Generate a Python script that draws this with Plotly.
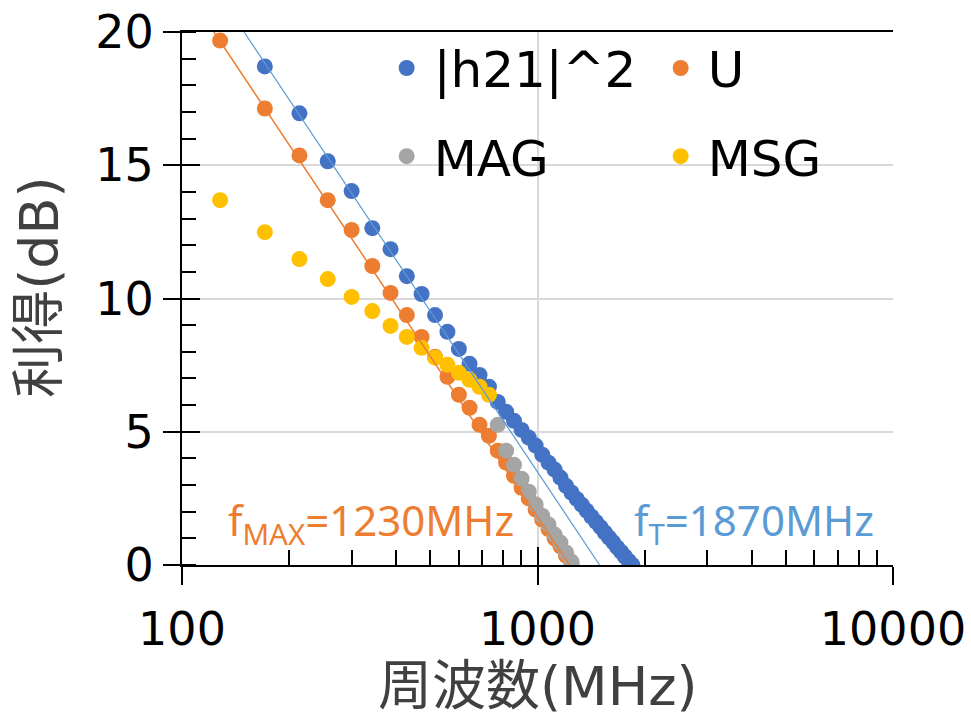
import plotly.graph_objects as go

# ---- data ----
freq_mhz = [128, 171, 214, 257, 300, 343, 386, 429, 472, 515, 558, 601, 644, 687, 730,
            773, 816, 859, 902, 945, 988, 1031, 1074, 1117, 1160, 1203, 1246, 1289, 1332,
            1375, 1418, 1461, 1504, 1547, 1590, 1633, 1676, 1719, 1762, 1805, 1848]

h21_db = [None, 18.71, 16.95, 15.15, 14.03, 12.64, 11.85, 10.84, 10.17, 9.38, 8.75, 8.11,
          7.55, 7.13, 6.69, 6.12, 5.75, 5.41, 5.07, 4.78, 4.48, 4.14, 3.84, 3.58, 3.28,
          2.97, 2.72, 2.48, 2.26, 2.04, 1.82, 1.62, 1.42, 1.22, 1.03, 0.85, 0.66, 0.49,
          0.32, 0.15, 0.0]

u_db = [19.68, 17.13, 15.37, 13.69, 12.57, 11.22, 10.21, 9.38, 8.56, 7.81, 7.06, 6.39,
        5.90, 5.26, 4.85, 4.29, 3.84, 3.35, 2.90, 2.50, 2.08, 1.70, 1.35, 1.00, 0.70,
        0.35, 0.05] + [None] * 14

mag_db = [None] * 15 + [5.26, 4.29, 3.76, 3.24, 2.75, 2.27, 1.85, 1.52, 1.14, 0.84,
                        0.47, 0.13] + [None] * 14

msg_db = [13.69, 12.49, 11.48, 10.73, 10.06, 9.53, 8.97, 8.56, 8.15, 7.78, 7.51, 7.21,
          6.95, 6.69, 6.39] + [None] * 26

trend_u_f = [123, 1230]
trend_u_db = [20, 0]
trend_h_f = [149.5, 1495]
trend_h_db = [20, 0]

series_names = ["|h21|^2", "U", "MAG", "MSG"]
series_colors = ["#4472C4", "#ED7D31", "#A5A5A5", "#FFC000"]
series_legend = ["legend", "legend", "legend2", "legend2"]

x_tickvals = [100, 1000, 10000]
x_ticktext = ["100", "1000", "10000"]
y_tickvals = [0, 5, 10, 15, 20]

FONT = "DejaVu Sans, Noto Sans CJK JP"

fig = go.Figure()
for name, ys, col, lg in zip(series_names, [h21_db, u_db, mag_db, msg_db], series_colors, series_legend):
    fig.add_trace(go.Scatter(x=freq_mhz, y=ys, mode="markers", name=name,
                             marker=dict(color=col, size=16, line=dict(width=0)),
                             legend=lg))

fig.add_trace(go.Scatter(x=trend_u_f, y=trend_u_db, mode="lines", showlegend=False,
                         line=dict(color="#ED7D31", width=1.5), xaxis="x2", yaxis="y2"))
fig.add_trace(go.Scatter(x=trend_h_f, y=trend_h_db, mode="lines", showlegend=False,
                         line=dict(color="#5B9BD5", width=1.2), xaxis="x2", yaxis="y2"))

common_x = dict(type="log", range=[2, 4], automargin=False)
common_y = dict(range=[0, 20.001], automargin=False)

fig.update_layout(
    width=971, height=724,
    margin=dict(l=182, r=78, t=32, b=159),
    paper_bgcolor="white", plot_bgcolor="white",
    font=dict(family=FONT, color="#000000", size=46),
    xaxis=dict(**common_x, tickvals=x_tickvals, ticktext=x_ticktext,
               showgrid=True, gridcolor="#D9D9D9", gridwidth=2,
               showline=True, linecolor="black", linewidth=2, mirror=True,
               ticks="outside", ticklen=18, tickwidth=2, tickcolor="black",
               ticklabelstandoff=5,
               tickfont=dict(size=46, family=FONT, color="#000000"),
               minor=dict(tickvals=[200, 300, 400, 500, 600, 700, 800, 900,
                                    2000, 3000, 4000, 5000, 6000, 7000, 8000, 9000],
                          ticks="inside", ticklen=15, tickwidth=2, tickcolor="black",
                          showgrid=False),
               zeroline=False),
    yaxis=dict(**common_y, tickvals=y_tickvals,
               showgrid=True, gridcolor="#D9D9D9", gridwidth=2,
               showline=True, linecolor="black", linewidth=2,
               ticks="outside", ticklen=17, tickwidth=2, tickcolor="black",
               tickfont=dict(size=46, family=FONT, color="#000000"),
               minor=dict(dtick=1, ticks="inside", ticklen=14, tickwidth=2,
                          tickcolor="black", showgrid=False),
               zeroline=False),
    xaxis2=dict(**common_x, overlaying="x", tickvals=x_tickvals, showticklabels=False,
                ticks="inside", ticklen=18, tickwidth=2, tickcolor="black",
                showgrid=False, showline=False, zeroline=False),
    yaxis2=dict(**common_y, overlaying="y", tickvals=y_tickvals, showticklabels=False,
                ticks="inside", ticklen=18, tickwidth=2, tickcolor="black",
                showgrid=False, showline=False, zeroline=False),
    legend=dict(orientation="h", x=0.278, y=0.9325, xanchor="left", yanchor="middle",
                bgcolor="rgba(0,0,0,0)", font=dict(size=50, family=FONT, color="#000000"),
                entrywidth=215, entrywidthmode="pixels", itemsizing="trace", itemwidth=44),
    legend2=dict(orientation="h", x=0.278, y=0.767, xanchor="left", yanchor="middle",
                 bgcolor="rgba(0,0,0,0)", font=dict(size=50, family=FONT, color="#000000"),
                 entrywidth=215, entrywidthmode="pixels", itemsizing="trace", itemwidth=44),
    annotations=[
        dict(text="周波数(MHz)", xref="paper", yref="paper", x=0.5, y=-0.228,
             xanchor="center", yanchor="middle", showarrow=False,
             font=dict(size=54, family=FONT, color="#404040")),
        dict(text="利得(dB)", xref="paper", yref="paper", x=-0.1997, y=0.52,
             xanchor="center", yanchor="middle", textangle=-90, showarrow=False,
             font=dict(size=54, family=FONT, color="#404040")),
        dict(text="f<sub>MAX</sub>=1230MHz", xref="paper", yref="paper", x=0.4698, y=0.079,
             xanchor="right", yanchor="middle", showarrow=False,
             font=dict(size=42, family="Noto Sans", color="#ED7D31")),
        dict(text="f<sub>T</sub>=1870MHz", xref="paper", yref="paper", x=0.633, y=0.079,
             xanchor="left", yanchor="middle", showarrow=False,
             font=dict(size=42, family="Noto Sans", color="#5B9BD5")),
    ],
)

fig.write_html("out.html")
